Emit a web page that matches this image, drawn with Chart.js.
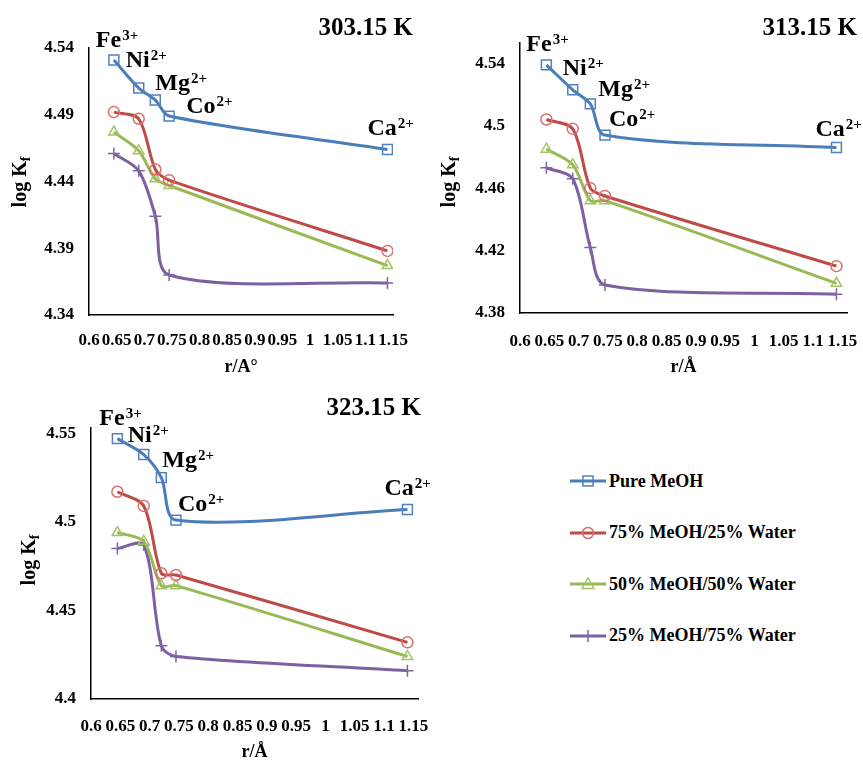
<!DOCTYPE html>
<html>
<head>
<meta charset="utf-8">
<script src="https://cdn.jsdelivr.net/npm/chart.js@4.4.1/dist/chart.umd.min.js"></script>
<style>
html, body { margin: 0; padding: 0; background: #fff; overflow: hidden; width: 863px; height: 760px; }
canvas { position: absolute; }
#legend { position: absolute; left: 570px; top: 469px; font: bold 18px "Liberation Serif", serif; color: #000; }
.item { position: absolute; left: 0; height: 24px; white-space: nowrap; display: flex; align-items: center; }
.item svg { margin-right: 3px; }
</style>
</head>
<body>
<canvas id="c1" width="430" height="380" style="left:0;top:0"></canvas>
<canvas id="c2" width="433" height="380" style="left:430px;top:0"></canvas>
<canvas id="c3" width="445" height="384" style="left:0;top:380px"></canvas>
<div id="legend"></div>
<script>
// ionic radii (x) and ion names
var radii = [0.645, 0.69, 0.72, 0.745, 1.14];
var ions = ['Fe', 'Ni', 'Mg', 'Co', 'Ca'];
var charges = ['3+', '2+', '2+', '2+', '2+'];
var seriesNames = ['Pure MeOH', '75% MeOH/25% Water', '50% MeOH/50% Water', '25% MeOH/75% Water'];

// log Kf at 303.15 K
var k303Pure = [4.531, 4.510, 4.501, 4.489, 4.464];
var k303M75 = [4.492, 4.487, 4.449, 4.441, 4.388];
var k303M50 = [4.477, 4.463, 4.442, 4.437, 4.377];
var k303M25 = [4.461, 4.448, 4.414, 4.370, 4.364];

// log Kf at 313.15 K
var k313Pure = [4.539, 4.523, 4.514, 4.494, 4.486];
var k313M75 = [4.504, 4.498, 4.460, 4.455, 4.410];
var k313M50 = [4.485, 4.475, 4.452, 4.452, 4.399];
var k313M25 = [4.473, 4.466, 4.422, 4.398, 4.392];

// log Kf at 323.15 K
var k323Pure = [4.547, 4.538, 4.525, 4.501, 4.507];
var k323M75 = [4.517, 4.509, 4.471, 4.470, 4.432];
var k323M50 = [4.494, 4.489, 4.464, 4.464, 4.424];
var k323M25 = [4.485, 4.487, 4.430, 4.424, 4.416];

// tick labels
var xTicks = [0.6, 0.65, 0.7, 0.75, 0.8, 0.85, 0.9, 0.95, 1, 1.05, 1.1, 1.15];
var yTicks303 = [4.34, 4.39, 4.44, 4.49, 4.54];
var yTicks313 = [4.38, 4.42, 4.46, 4.5, 4.54];
var yTicks323 = [4.4, 4.45, 4.5, 4.55];

var lineColors = ['#4A7EBB', '#BE4B48', '#98B954', '#7D60A0'];
var pointColors = ['#4F81BD', '#D9706D', '#A5C46A', '#8064A2'];
var pointShapes = ['rect', 'circle', 'triangle', 'cross'];
var pointSizes = [7, 5.5, 6, 6];

var serif = '"Liberation Serif", "Times New Roman", serif';

function fmt(v) { return String(Number(v.toFixed(2))); }

function drawSup(ctx, base, sup, x, y, big, small, rise) {
    ctx.font = 'bold ' + big + 'px ' + serif;
    ctx.fillText(base, x, y);
    var w = ctx.measureText(base).width;
    ctx.font = 'bold ' + small + 'px ' + serif;
    ctx.fillText(sup, x + w + 1, y - rise);
}

var decor = {
    id: 'decor',
    afterDraw: function (chart) {
        var o = chart.options.plugins.decor;
        var ctx = chart.ctx;
        ctx.save();
        ctx.fillStyle = '#000';

        // temperature title
        ctx.font = 'bold 25px ' + serif;
        ctx.textAlign = 'right';
        ctx.textBaseline = 'middle';
        ctx.fillText(o.title, o.titleX, o.titleY);

        // y axis title: log Kf
        ctx.save();
        ctx.translate(o.yTitle[0], o.yTitle[1]);
        ctx.rotate(-Math.PI / 2);
        ctx.textAlign = 'left';
        ctx.textBaseline = 'middle';
        ctx.font = 'bold 20px ' + serif;
        var w1 = ctx.measureText('log K').width;
        ctx.font = 'bold 14px ' + serif;
        var w2 = ctx.measureText('f').width;
        var sx = -(w1 + w2) / 2;
        ctx.font = 'bold 20px ' + serif;
        ctx.fillText('log K', sx, 0);
        ctx.font = 'bold 14px ' + serif;
        ctx.fillText('f', sx + w1, 5);
        ctx.restore();

        // ion labels next to the Pure MeOH points
        ctx.textAlign = 'left';
        ctx.textBaseline = 'alphabetic';
        var meta = chart.getDatasetMeta(0);
        meta.data.forEach(function (pt, i) {
            var off = o.offsets[i];
            drawSup(ctx, ions[i], charges[i], pt.x + off[0], pt.y + off[1], 24, 15, 7);
        });
        ctx.restore();
    }
};

function makeChart(id, cfg) {
    var datasets = cfg.series.map(function (vals, i) {
        return {
            label: seriesNames[i],
            data: radii.map(function (x, j) { return { x: x, y: vals[j] }; }),
            borderColor: lineColors[i],
            borderWidth: 3,
            pointStyle: pointShapes[i],
            pointRadius: pointSizes[i],
            pointBorderColor: pointColors[i],
            pointBackgroundColor: 'rgba(255,255,255,0)',
            pointBorderWidth: 1.5,
            tension: 0.3,
            fill: false
        };
    });
    var tickFont = { family: serif, weight: 'bold', size: 17 };
    return new Chart(document.getElementById(id), {
        type: 'line',
        data: { datasets: datasets },
        options: {
            responsive: false,
            animation: false,
            layout: { padding: { top: cfg.top, right: cfg.right, bottom: 0, left: 0 } },
            plugins: {
                legend: { display: false },
                tooltip: { enabled: false },
                decor: { title: cfg.title, titleX: cfg.titleX, titleY: cfg.titleY, yTitle: cfg.yTitle, offsets: cfg.offsets }
            },
            scales: {
                x: {
                    type: 'linear',
                    min: 0.6,
                    max: cfg.xMax,
                    afterBuildTicks: function (s) { s.ticks = xTicks.map(function (v) { return { value: v }; }); },
                    afterFit: function (s) { s.height = cfg.xh; s.paddingLeft = 0; s.paddingRight = 0; },
                    grid: { display: false, drawTicks: false },
                    border: { display: true, color: '#000', width: 1.5 },
                    ticks: { autoSkip: false, maxRotation: 0, padding: cfg.xPad, color: '#000', font: tickFont, callback: fmt },
                    title: { display: true, text: cfg.xTitle, color: '#000', font: { family: serif, weight: 'bold', size: 18 }, padding: { top: 0, bottom: cfg.xTitlePad } }
                },
                y: {
                    type: 'linear',
                    min: cfg.yMin,
                    max: cfg.yMax,
                    afterBuildTicks: function (s) { s.ticks = cfg.yTicks.map(function (v) { return { value: v }; }); },
                    afterFit: function (s) { s.width = cfg.yw; s.paddingTop = 0; s.paddingBottom = 0; },
                    grid: { display: false, drawTicks: false },
                    border: { display: true, color: '#000', width: 1.5 },
                    ticks: { autoSkip: false, padding: 15, color: '#000', font: tickFont, callback: fmt }
                }
            }
        },
        plugins: [decor]
    });
}

makeChart('c1', {
    series: [k303Pure, k303M75, k303M50, k303M25],
    yTicks: yTicks303, yMin: 4.34, yMax: 4.54, xMax: 1.15,
    top: 48, right: 37, yw: 89, xh: 65, xPad: 15, xTitlePad: 2,
    xTitle: 'r/A°', title: '303.15 K', titleX: 413, titleY: 29, yTitle: [21, 182],
    offsets: [[-18, -13], [-13, -21], [0, -10], [17, -3], [-20, -14]]
});

makeChart('c2', {
    series: [k313Pure, k313M75, k313M50, k313M25],
    yTicks: yTicks313, yMin: 4.38, yMax: 4.553, xMax: 1.158,
    top: 43, right: 16, yw: 90, xh: 67, xPad: 18, xTitlePad: 2,
    xTitle: 'r/Å', title: '313.15 K', titleX: 427, titleY: 29, yTitle: [20, 182],
    offsets: [[-20, -14], [-10, -15], [8, -8], [4, -9], [-21, -12]]
});

makeChart('c3', {
    series: [k323Pure, k323M75, k323M50, k323M25],
    yTicks: yTicks323, yMin: 4.4, yMax: 4.553, xMax: 1.158,
    top: 48, right: 27, yw: 91, xh: 65, xPad: 17, xTitlePad: 1,
    xTitle: 'r/Å', title: '323.15 K', titleX: 421, titleY: 29, yTitle: [30, 180],
    offsets: [[-18, -14], [-16, -13], [1, -11], [2, -9], [-23, -14]]
});

// legend
var legendY = [0, 51.6, 103.2, 154.8];
var icons = [
    '<rect x="13" y="7" width="10" height="10" fill="none" stroke="#4F81BD" stroke-width="1.5"/>',
    '<circle cx="18" cy="12" r="5.5" fill="none" stroke="#D9706D" stroke-width="1.5"/>',
    '<polygon points="18,6 24,16.5 12,16.5" fill="none" stroke="#A5C46A" stroke-width="1.5"/>',
    '<path d="M18 6 V18 M12 12 H24" stroke="#8064A2" stroke-width="1.5"/>'
];
var legend = document.getElementById('legend');
seriesNames.forEach(function (name, i) {
    var div = document.createElement('div');
    div.className = 'item';
    div.style.top = legendY[i] + 'px';
    div.innerHTML = '<svg width="36" height="24"><line x1="0" y1="12" x2="36" y2="12" stroke="' + lineColors[i] + '" stroke-width="3"/>' + icons[i] + '</svg><span>' + name + '</span>';
    legend.appendChild(div);
});
</script>
</body>
</html>
